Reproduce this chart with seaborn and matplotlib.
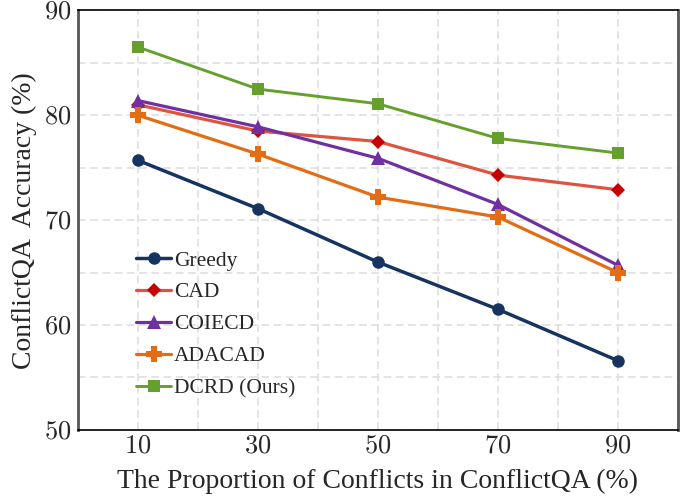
import pandas as pd
import numpy as np
import matplotlib.pyplot as plt
import seaborn as sns
from matplotlib.ticker import MultipleLocator

proportions = [10, 30, 50, 70, 90]
greedy = [75.7, 71.1, 66.0, 61.5, 56.6]
cad = [81.0, 78.5, 77.5, 74.3, 72.9]
coiecd = [81.4, 78.9, 75.9, 71.5, 65.7]
adacad = [80.0, 76.3, 72.2, 70.3, 65.0]
dcrd = [86.5, 82.5, 81.1, 77.8, 76.4]

methods = ['Greedy', 'CAD', 'COIECD', 'ADACAD', 'DCRD (Ours)']
values = [greedy, cad, coiecd, adacad, dcrd]

rows = []
for m, v in zip(methods, values):
    for p, a in zip(proportions, v):
        rows.append({'prop': p, 'acc': a, 'method': m})
df = pd.DataFrame(rows)

sns.set_style('white')
plt.rcParams['font.family'] = ['Liberation Serif', 'DejaVu Serif']
plt.rcParams['mathtext.fontset'] = 'cm'

# line colour, marker colour, marker, marker size, line width
styles = {
    'Greedy': ('#16345f', '#16345f', 'o', 9, 2.5),
    'CAD': ('#dd5440', '#c40000', 'D', 7.5, 2.3),
    'COIECD': ('#7030a0', '#7030a0', '^', 10, 2.3),
    'ADACAD': ('#e36c14', '#e36c14', 'P', 11, 2.3),
    'DCRD (Ours)': ('#65a02c', '#65a02c', 's', 9, 2.1),
}

fig, ax = plt.subplots(figsize=(6.91, 4.97), dpi=100)

for m in methods:
    lc, mc, mk, ms, lw = styles[m]
    sns.lineplot(data=df[df['method'] == m], x='prop', y='acc', ax=ax,
                 color=lc, marker=mk, markersize=ms, linewidth=lw,
                 markerfacecolor=mc, markeredgecolor=mc, markeredgewidth=0,
                 label=m, zorder=3)

ax.set_xlim(0, 100)
ax.set_ylim(50, 90)
ax.set_xticks(proportions)
ax.set_xticklabels([f'${p}$' for p in proportions])
ax.set_yticks([50, 60, 70, 80, 90])
ax.set_yticklabels([f'${t}$' for t in [50, 60, 70, 80, 90]])
ax.xaxis.set_minor_locator(MultipleLocator(10))
ax.yaxis.set_minor_locator(MultipleLocator(5))
ax.grid(True, which='both', linestyle=(0, (5, 3)), color='#dcdcdc', linewidth=1.1)
ax.tick_params(axis='both', which='major', labelsize=19, length=0)
ax.tick_params(axis='x', pad=4)
ax.tick_params(axis='y', pad=5)
ax.tick_params(which='minor', length=0)

ax.set_xlabel('The Proportion of Conflicts in ConflictQA (%)', fontsize=20, labelpad=8)
ax.set_ylabel('ConflictQA  Accuracy (%)', fontsize=20, labelpad=5)

for s in ['top', 'bottom']:
    ax.spines[s].set_color('black')
    ax.spines[s].set_linewidth(1.2)
for s in ['left', 'right']:
    ax.spines[s].set_color('#555555')
    ax.spines[s].set_linewidth(2.0)

leg = ax.legend(loc='lower left', bbox_to_anchor=(0.083, 0.055), frameon=False,
                fontsize=15.5, handlelength=1.6, handletextpad=0.15,
                labelspacing=0.55, borderaxespad=0)

plt.subplots_adjust(left=0.113, right=0.981, top=0.979, bottom=0.135)
plt.savefig('out.png', dpi=100)
